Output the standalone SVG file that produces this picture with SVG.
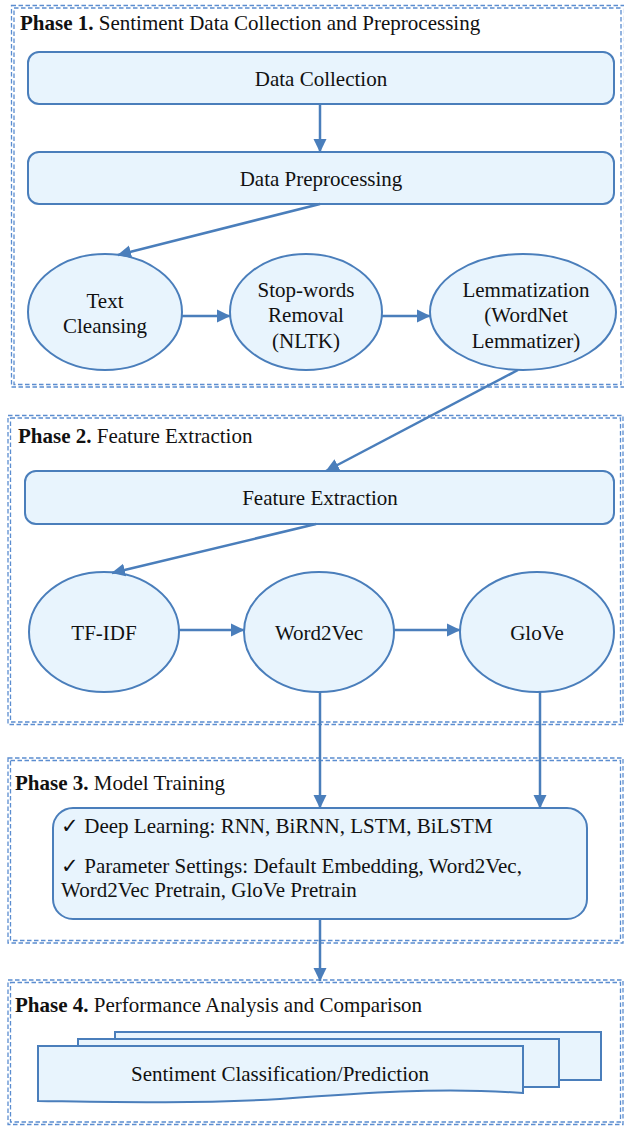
<svg xmlns="http://www.w3.org/2000/svg" width="624" height="1128" viewBox="0 0 624 1128">
<style>
text{font-family:"Liberation Serif","Times New Roman","DejaVu Serif",serif;font-size:21px;fill:#111}
.c{text-anchor:middle}
.b{font-weight:bold}
.ph{fill:none;stroke:#5B8DD0;stroke-width:1.3;stroke-dasharray:4.5 2.5}
.nd{fill:#E8F4FD;stroke:#4A7EBB;stroke-width:2}
.ar{fill:none;stroke:#4A7EBB;stroke-width:2.5;marker-end:url(#ah)}
</style>
<defs>
<marker id="ah" markerUnits="userSpaceOnUse" markerWidth="14" markerHeight="14" viewBox="0 0 14 14" refX="13" refY="7" orient="auto">
<path d="M0,0.5 L13.5,7 L0,13.5 z" fill="#4A7EBB"/>
</marker>
</defs>
<rect width="624" height="1128" fill="#fff"/>

<g id="phase1">
<rect class="ph" x="11.5" y="5.5" width="613" height="381.5"/>
<rect class="ph" x="14" y="8" width="607" height="376.5"/>
<text x="20" y="30"><tspan class="b">Phase 1.</tspan> Sentiment Data Collection and Preprocessing</text>
</g>
<g id="phase2">
<rect class="ph" x="8" y="415.5" width="615" height="309"/>
<rect class="ph" x="10.5" y="418" width="610" height="304"/>
<text x="18" y="443"><tspan class="b">Phase 2.</tspan> Feature Extraction</text>
</g>
<g id="phase3">
<rect class="ph" x="8" y="758" width="615" height="185"/>
<rect class="ph" x="10.5" y="760.5" width="610" height="180"/>
<text x="15" y="790"><tspan class="b">Phase 3.</tspan> Model Training</text>
</g>
<g id="phase4">
<rect class="ph" x="8" y="980" width="615" height="144.5"/>
<rect class="ph" x="10.5" y="982.5" width="610" height="139.5"/>
<text x="15" y="1012"><tspan class="b">Phase 4.</tspan> Performance Analysis and Comparison</text>
</g>

<g id="data-collection">
<rect class="nd" x="28" y="52" width="586" height="52" rx="11"/>
<text class="c" x="321" y="86">Data Collection</text>
</g>
<g id="data-preprocessing">
<rect class="nd" x="28" y="152" width="586" height="52" rx="11"/>
<text class="c" x="321" y="186">Data Preprocessing</text>
</g>
<g id="text-cleansing">
<ellipse class="nd" cx="105" cy="312" rx="77" ry="58"/>
<text class="c" x="105" y="308">Text</text>
<text class="c" x="105" y="333">Cleansing</text>
</g>
<g id="stopwords">
<ellipse class="nd" cx="306" cy="312" rx="76" ry="58"/>
<text class="c" x="306" y="297">Stop-words</text>
<text class="c" x="306" y="322">Removal</text>
<text class="c" x="306" y="348">(NLTK)</text>
</g>
<g id="lemmatization">
<ellipse class="nd" cx="523" cy="312" rx="93" ry="58"/>
<text class="c" x="526" y="297">Lemmatization</text>
<text class="c" x="526" y="322">(WordNet</text>
<text class="c" x="526" y="348">Lemmatizer)</text>
</g>

<g id="feature-extraction">
<rect class="nd" x="25" y="471" width="589" height="53" rx="11"/>
<text class="c" x="320" y="505">Feature Extraction</text>
</g>
<g id="tfidf">
<ellipse class="nd" cx="104" cy="632" rx="75" ry="60"/>
<text class="c" x="104" y="640">TF-IDF</text>
</g>
<g id="word2vec">
<ellipse class="nd" cx="319" cy="632" rx="75" ry="60"/>
<text class="c" x="319" y="640">Word2Vec</text>
</g>
<g id="glove">
<ellipse class="nd" cx="537" cy="632" rx="77" ry="60"/>
<text class="c" x="537" y="640">GloVe</text>
</g>

<g id="model-training">
<rect class="nd" x="53" y="808" width="534" height="111" rx="20"/>
<text x="61" y="833">✓ Deep Learning: RNN, BiRNN, LSTM, BiLSTM</text>
<text x="61" y="873">✓ Parameter Settings: Default Embedding, Word2Vec,</text>
<text x="61" y="897">Word2Vec Pretrain, GloVe Pretrain</text>
</g>

<g id="sentiment-classification">
<rect class="nd" x="115" y="1032" width="486" height="48"/>
<rect class="nd" x="78" y="1039" width="481" height="48"/>
<path class="nd" d="M38,1046 H523 V1093 C440,1087 360,1093 280,1099 C190,1104 110,1102 38,1101 Z"/>
<text class="c" x="280" y="1081">Sentiment Classification/Prediction</text>
</g>

<g id="connectors">
<line class="ar" x1="320" y1="104" x2="320" y2="152"/>
<line class="ar" x1="320" y1="204" x2="118" y2="255"/>
<line class="ar" x1="182" y1="316" x2="230" y2="316"/>
<line class="ar" x1="382" y1="316" x2="430" y2="316"/>
<line class="ar" x1="518" y1="370" x2="326" y2="471"/>
<line class="ar" x1="316" y1="524" x2="112" y2="573"/>
<line class="ar" x1="179" y1="630" x2="244" y2="630"/>
<line class="ar" x1="394" y1="630" x2="460" y2="630"/>
<line class="ar" x1="320" y1="692" x2="320" y2="808"/>
<line class="ar" x1="540" y1="692" x2="540" y2="808"/>
<line class="ar" x1="320" y1="919" x2="320" y2="981"/>
</g>
</svg>
